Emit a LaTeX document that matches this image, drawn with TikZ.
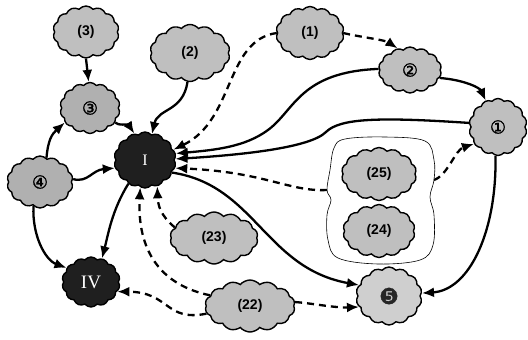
\documentclass[tikz,border=0pt]{standalone}
\usepackage{fontspec}
\setmainfont{Liberation Serif}
\newfontfamily\labf{Liberation Sans}
\newfontfamily\dvf{DejaVu Sans}[FakeBold=1.5]
\usetikzlibrary{shapes.symbols,arrows.meta}
\tikzset{
  cl/.style={cloud, cloud puffs=14, cloud puff arc=100, cloud ignores aspect,
    draw=black, line width=1.4pt, fill=gray!50, inner sep=0pt,
    font=\labf\bfseries\fontsize{14}{14}\selectfont},
  cld/.style={cl, fill=gray!62},
  cll/.style={cl, fill=gray!38},
  clb/.style={cl, fill=black!88, text=white, font=\rmfamily\fontsize{19}{19}\selectfont},
  cnum/.style={font=\dvf\fontsize{18}{18}\selectfont},
  sol/.style={line width=2.3pt, -{Latex[length=12pt,width=10pt]}},
  dsh/.style={sol, dash pattern=on 7pt off 5pt},
  grpline/.style={line width=0.6pt},
}
\begin{document}
\begin{tikzpicture}[x=1pt,y=1pt]
\useasboundingbox (0,0) rectangle (528,-340);
% group boundary
\coordinate (grpL) at (327,-190);
\coordinate (grpR) at (434,-180);
\draw[grpline] plot[smooth cycle, tension=0.6] coordinates {
  (345,-139) (385,-137) (425,-141) (434,-160) (grpR) (430,-197) (434,-215)
  (433,-245) (420,-260) (378,-264) (338,-258) (328,-240) (327,-215)
  (331,-200) (grpL) (330,-170) (334,-148)};
% nodes
\node[cl, minimum width=66pt, minimum height=52pt] (n3) at (86,-32) {(3)};
\node[cl, minimum width=80pt, minimum height=57pt] (n2) at (190,-53) {(2)};
\node[cld, minimum width=60pt, minimum height=51pt, cnum] (c3) at (90,-108) {③};
\node[clb, minimum width=62pt, minimum height=56pt, font=\rmfamily\fontsize{16}{16}\selectfont] (I) at (145,-160) {I};
\node[cld, minimum width=66pt, minimum height=52pt, cnum] (c4) at (40,-182) {④};
\node[clb, minimum width=58pt, minimum height=50pt] (IV) at (91,-282) {IV};
\node[cl, minimum width=88pt, minimum height=52pt] (n23) at (214,-238) {(23)};
\node[cl, minimum width=90pt, minimum height=52pt] (n22) at (250,-306) {(22)};
\node[cl, minimum width=68pt, minimum height=53pt] (n1) at (310,-33) {(1)};
\node[cl, minimum width=63pt, minimum height=46pt, cnum] (c2) at (410,-70) {②};
\node[cl, minimum width=58pt, minimum height=57pt, cnum] (c1) at (498,-127) {①};
\node[cl, minimum width=75pt, minimum height=53pt] (n25) at (379,-174) {(25)};
\node[cl, minimum width=72pt, minimum height=53pt] (n24) at (379,-231) {(24)};
\node[cll, minimum width=66pt, minimum height=58pt, font=\dvf\fontsize{22}{22}\selectfont, text=black!85] (c5) at (389,-296) {❺};
% solid connectors
\draw[sol] (n3.-90) -- (c3.93);
\draw[sol] (n2.-95) .. controls (183,-112) and (158,-108) .. (I.75);
\draw[sol] (c3.-30) .. controls (118,-126) and (128,-124) .. (I.112);
\draw[sol] (c4.75) .. controls (48,-140) and (52,-134) .. (c3.-150);
\draw[sol] (c4.5) .. controls (88,-183) and (92,-170) .. (I.195);
\draw[sol] (c4.-105) .. controls (32,-235) and (45,-260) .. (IV.150);
\draw[sol] (I.-125) .. controls (112,-210) and (108,-235) .. (IV.65);
\draw[sol] (c2.-15) .. controls (465,-80) and (480,-88) .. (c1.115);
\draw[sol] (c2.178) .. controls (300,-72) and (295,-110) .. (268,-130)
  .. controls (245,-147) and (215,-150) .. (I.12);
\draw[sol] (c1.172) .. controls (380,-117) and (340,-118) .. (326,-132)
  .. controls (310,-148) and (240,-155) .. (I.2);
\draw[sol] (I.-25) .. controls (255,-185) and (265,-268) .. (c5.160);
\draw[sol] (c1.-95) .. controls (497,-230) and (470,-290) .. (c5.5);
% dashed connectors
\draw[dsh] (n1.180) .. controls (225,-40) and (235,-120) .. (I.20);
\draw[dsh] (n1.0) .. controls (360,-37) and (385,-40) .. (c2.120);
\draw[dsh] (grpL) .. controls (290,-192) and (265,-172) .. (I.-15);
\draw[dsh] (grpR) .. controls (448,-175) and (455,-150) .. (c1.-145);
\draw[dsh] (n22.5) .. controls (310,-303) and (335,-308) .. (c5.200);
\draw[dsh] (n22.190) .. controls (165,-322) and (170,-292) .. (IV.-20);
\draw[dsh] (n22.165) .. controls (160,-285) and (137,-250) .. (I.-100);
\draw[dsh] (n23.165) .. controls (160,-215) and (158,-205) .. (I.-65);
\end{tikzpicture}
\end{document}
